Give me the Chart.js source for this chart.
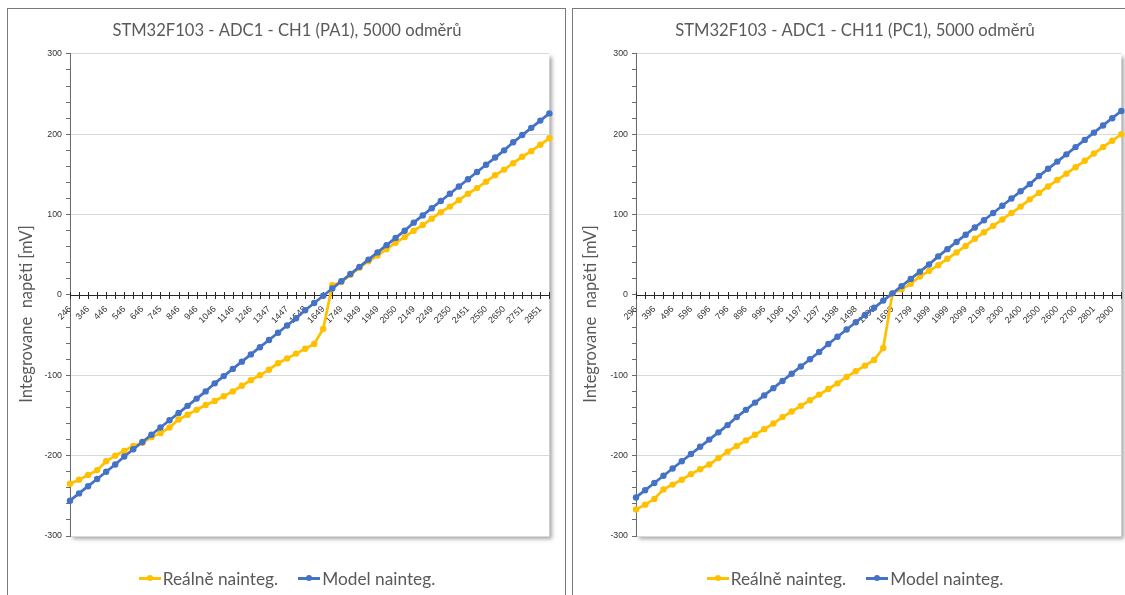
<!DOCTYPE html>
<html>
<head>
<meta charset="utf-8">
<script src="https://cdn.jsdelivr.net/npm/chart.js@4.4.1/dist/chart.umd.min.js"></script>
<style>
  html, body { margin: 0; padding: 0; width: 1125px; height: 595px; overflow: hidden; background: #fff; }
  .panel { position: absolute; top: 8px; height: 600px; border: 1px solid #7a7a7a; box-sizing: border-box; background: #fff; }
  canvas { position: absolute; top: 8px; }
  .legend { position: absolute; top: 567px; height: 22px; display: flex; justify-content: center; align-items: center;
            font-family: Lato, "Open Sans", sans-serif; font-size: 17.3px; color: #595959; }
  .legend .item { display: flex; align-items: center; margin: 0 10px; }
  .legend .mark { position: relative; width: 22px; height: 12px; margin-right: 2px; }
  .legend .mark::before { content: ""; position: absolute; left: 0; right: 0; top: 5px; height: 2.5px; background: var(--c); }
  .legend .mark::after { content: ""; position: absolute; left: 8px; top: 3px; width: 6px; height: 6px; border-radius: 50%; background: var(--c); }
</style>
</head>
<body>
<div class="panel" style="left:7px; width:559px;"></div>
<div class="panel" style="left:572px; width:580px;"></div>
<canvas id="ch1" width="558" height="587" style="left:8px;"></canvas>
<canvas id="ch11" width="566" height="587" style="left:572px;"></canvas>
<div class="legend" id="leg1" style="left:8px; width:558px;"></div>
<div class="legend" id="leg11" style="left:572px; width:566px;"></div>

<script>
// ADC code labels shown on the category axis (every second sample)
const TICKS_CH1 = [246, 346, 446, 546, 646, 745, 846, 946, 1046, 1146, 1246, 1347, 1447, 1548,
                   1649, 1749, 1849, 1949, 2050, 2149, 2249, 2350, 2451, 2550, 2650, 2751, 2851];
const TICKS_CH11 = [296, 396, 496, 596, 696, 796, 896, 996, 1096, 1197, 1297, 1398, 1498, 1599,
                    1699, 1799, 1899, 1999, 2099, 2199, 2300, 2400, 2500, 2600, 2700, 2801, 2900];

// CH1 (PA1): integrated voltage [mV]
const REAL_CH1 = [-235, -230, -224, -218, -207, -200, -194, -188, -184, -177, -172, -165, -155, -149,
                  -143, -137, -132, -126, -120, -113, -106, -100, -93, -85, -79, -73, -67, -61,
                  -42, 12, 16, 25, 34, 42, 49, 57, 65, 72, 80, 87, 95, 103, 110, 118, 126, 133,
                  141, 149, 156, 164, 172, 179, 187, 195];
const MODEL_CH1 = [-256, -247, -238, -229, -220, -211, -201, -192, -183, -174, -165, -156, -147, -138,
                   -129, -120, -110, -101, -92, -83, -74, -65, -56, -47, -38, -29, -19, -10,
                   -1, 8, 17, 26, 35, 44, 53, 62, 71, 80, 90, 99, 108, 117, 126, 135, 144, 153,
                   162, 171, 180, 190, 199, 208, 217, 226];

// CH11 (PC1): integrated voltage [mV]
const REAL_CH11 = [-267, -261, -254, -242, -236, -230, -223, -217, -211, -203, -195, -188, -181, -174,
                   -167, -160, -152, -145, -138, -131, -124, -117, -110, -102, -95, -88, -81, -66,
                   2, 7, 14, 23, 30, 37, 45, 53, 61, 70, 78, 86, 94, 102, 110, 119, 127, 135,
                   143, 151, 159, 167, 176, 184, 192, 200];
const MODEL_CH11 = [-252, -243, -234, -225, -216, -207, -198, -189, -180, -171, -162, -152, -143, -134,
                    -125, -116, -107, -98, -89, -80, -71, -61, -52, -43, -34, -25, -16, -7,
                    2, 11, 20, 29, 38, 48, 57, 66, 75, 84, 93, 102, 111, 120, 129, 138, 148, 157,
                    166, 175, 184, 193, 202, 211, 220, 229];

const SERIES_NAMES = ['Reálně nainteg.', 'Model nainteg.'];
const SERIES_COLORS = ['#FFC000', '#4472C4'];
const Y_TITLE = 'Integrovane  napěti [mV]';

const TEXT_FONT = 'Lato, "Open Sans", sans-serif';
const TICK_FONT = '"Liberation Sans", Arial, sans-serif';

// soft drop shadow behind the plot area
const plotShadow = {
  id: 'plotShadow',
  beforeDraw(chart) {
    const {ctx, chartArea: a} = chart;
    ctx.save();
    ctx.shadowColor = 'rgba(0,0,0,0.35)';
    ctx.shadowBlur = 4;
    ctx.shadowOffsetX = 3;
    ctx.shadowOffsetY = 3;
    ctx.fillStyle = '#fff';
    ctx.fillRect(a.left, a.top, a.right - a.left, a.bottom - a.top);
    ctx.restore();
  }
};

// horizontal axis through zero with crossing tick marks
const zeroAxis = {
  id: 'zeroAxis',
  beforeDatasetsDraw(chart) {
    const {ctx, chartArea: a, scales: {x, y}} = chart;
    const y0 = Math.round(y.getPixelForValue(0)) + 0.5;
    ctx.save();
    ctx.strokeStyle = '#262626';
    ctx.lineWidth = 1;
    ctx.beginPath();
    ctx.moveTo(a.left, y0);
    ctx.lineTo(a.right, y0);
    for (let i = 0; i < x.ticks.length; i++) {
      const px = Math.round(x.getPixelForTick(i)) + 0.5;
      ctx.moveTo(px, y0 - 3.5);
      ctx.lineTo(px, y0 + 3.5);
    }
    ctx.stroke();
    ctx.restore();
  }
};

// rotated title of the value axis
const yTitle = {
  id: 'yTitle',
  afterDraw(chart) {
    const {ctx} = chart;
    ctx.save();
    ctx.translate(19, 306);
    ctx.rotate(-Math.PI / 2);
    ctx.font = '16.5px ' + TEXT_FONT;
    ctx.fillStyle = '#595959';
    ctx.textAlign = 'center';
    ctx.textBaseline = 'middle';
    ctx.fillText(Y_TITLE, 0, 0);
    ctx.restore();
  }
};

function makeChart(canvasId, legendId, title, ticks, real, model, sidePad, yAxisWidth) {
  const labels = model.map((_, i) => (i % 2 === 0 && ticks[i / 2] !== undefined) ? String(ticks[i / 2]) : '');
  const values = [real, model];
  const chart = new Chart(document.getElementById(canvasId), {
    type: 'line',
    data: {
      labels,
      datasets: values.map((data, k) => ({
        label: SERIES_NAMES[k],
        data,
        borderColor: SERIES_COLORS[k],
        backgroundColor: SERIES_COLORS[k],
        borderWidth: 2.75,
        pointRadius: 3.2,
        pointBorderWidth: 0,
        pointBackgroundColor: SERIES_COLORS[k],
        tension: 0,
        order: k === 0 ? 1 : 0
      }))
    },
    options: {
      responsive: false,
      animation: false,
      layout: { padding: { left: sidePad, right: sidePad, top: 0, bottom: 59 } },
      plugins: {
        legend: { display: false },
        tooltip: { enabled: false },
        title: {
          display: true,
          text: title,
          color: '#595959',
          font: { family: TEXT_FONT, size: 16.6, weight: 'normal' },
          padding: { top: 13, bottom: 13 }
        }
      },
      scales: {
        x: {
          type: 'category',
          position: { y: 0 },
          grid: { display: false, drawTicks: false },
          border: { display: false },
          ticks: {
            autoSkip: false,
            maxRotation: 45,
            minRotation: 45,
            padding: 9,
            color: '#333333',
            font: { family: TICK_FONT, size: 9 }
          }
        },
        y: {
          min: -300,
          max: 300,
          afterFit(s) { s.width = yAxisWidth; },
          border: { display: true, color: '#6b6b6b', width: 1 },
          grid: {
            color: c => (c.tick && c.tick.value % 100 === 0 && c.tick.value !== 0) ? '#d9d9d9' : 'rgba(0,0,0,0)',
            tickColor: '#6b6b6b',
            tickLength: 4,
            lineWidth: 1
          },
          ticks: {
            stepSize: 20,
            autoSkip: false,
            maxTicksLimit: 100,
            padding: 4,
            color: '#333333',
            font: { family: TICK_FONT, size: 8.8 },
            callback: v => (v % 100 === 0 ? String(v) : '')
          }
        }
      }
    },
    plugins: [plotShadow, zeroAxis, yTitle]
  });

  // legend built from the chart's own datasets
  const leg = document.getElementById(legendId);
  chart.data.datasets.forEach(ds => {
    const item = document.createElement('div');
    item.className = 'item';
    const mark = document.createElement('span');
    mark.className = 'mark';
    mark.style.setProperty('--c', ds.borderColor);
    const txt = document.createElement('span');
    txt.textContent = ds.label;
    item.appendChild(mark);
    item.appendChild(txt);
    leg.appendChild(item);
  });
  return chart;
}

makeChart('ch1', 'leg1', 'STM32F103 - ADC1 - CH1 (PA1), 5000 odměrů',
          TICKS_CH1, REAL_CH1, MODEL_CH1, 13, 49);
makeChart('ch11', 'leg11', 'STM32F103 - ADC1 - CH11 (PC1), 5000 odměrů',
          TICKS_CH11, REAL_CH11, MODEL_CH11, 7, 57);
</script>
</body>
</html>
